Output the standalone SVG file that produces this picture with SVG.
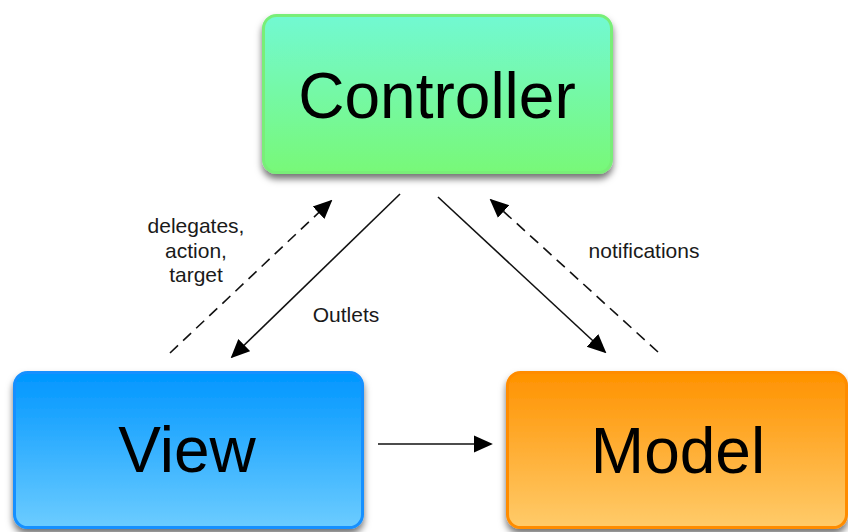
<svg xmlns="http://www.w3.org/2000/svg" width="848" height="532" viewBox="0 0 848 532">
  <defs>
    <linearGradient id="gC" x1="0" y1="0" x2="0" y2="1">
      <stop offset="0" stop-color="#72F9D2"/>
      <stop offset="1" stop-color="#78F878"/>
    </linearGradient>
    <linearGradient id="gV" x1="0" y1="0" x2="0" y2="1">
      <stop offset="0" stop-color="#0096FF"/>
      <stop offset="1" stop-color="#6CCCFF"/>
    </linearGradient>
    <linearGradient id="gM" x1="0" y1="0" x2="0" y2="1">
      <stop offset="0" stop-color="#FF9200"/>
      <stop offset="1" stop-color="#FFCB6A"/>
    </linearGradient>
    <filter id="sh" x="-10%" y="-10%" width="120%" height="135%">
      <feDropShadow dx="0" dy="5" stdDeviation="3.5" flood-color="#000" flood-opacity="0.55"/>
    </filter>
    <marker id="ah" viewBox="0 0 10 10" refX="9" refY="5" markerWidth="19" markerHeight="19" markerUnits="userSpaceOnUse" orient="auto">
      <path d="M0,0.5 L10,5 L0,9.5 z" fill="#000"/>
    </marker>
  </defs>
  <style>
    .box { stroke-width: 3; }
    .big { font-family: "Liberation Sans", Arial, sans-serif; font-size: 64px; fill: #000; text-anchor: middle; }
    .lbl { font-family: "Liberation Sans", Arial, sans-serif; font-size: 21px; fill: #1a1a1a; text-anchor: middle; }
    .ln { stroke: #111; stroke-width: 1.6; fill: none; marker-end: url(#ah); }
    .dash { stroke-dasharray: 11 7; }
  </style>
  <rect width="848" height="532" fill="#fff"/>

  <g id="connectors">
    <line class="ln dash" x1="170" y1="353" x2="331" y2="201"/>
    <line class="ln" x1="400" y1="194" x2="232" y2="357"/>
    <line class="ln" x1="438" y1="197" x2="605" y2="352"/>
    <line class="ln dash" x1="658" y1="352" x2="491" y2="200"/>
    <line class="ln" x1="378" y1="444" x2="491" y2="444"/>
    <text class="lbl" x="196" y="233">delegates,</text>
    <text class="lbl" x="196" y="258">action,</text>
    <text class="lbl" x="196" y="282">target</text>
    <text class="lbl" x="346" y="322">Outlets</text>
    <text class="lbl" x="644" y="258">notifications</text>
  </g>

  <g id="controller">
    <rect class="box" x="263.5" y="15.5" width="348" height="157" rx="13" fill="url(#gC)" stroke="#78EE78" filter="url(#sh)"/>
    <text class="big" x="437" y="118">Controller</text>
  </g>

  <g id="view">
    <rect class="box" x="14.5" y="372.5" width="348" height="155" rx="13" fill="url(#gV)" stroke="#1490FF" filter="url(#sh)"/>
    <text class="big" x="187" y="472" font-size="63">View</text>
  </g>

  <g id="model">
    <rect class="box" x="507.5" y="372.5" width="339" height="155" rx="13" fill="url(#gM)" stroke="#FF8C00" filter="url(#sh)"/>
    <text class="big" x="678" y="473" font-size="63">Model</text>
  </g>
</svg>
